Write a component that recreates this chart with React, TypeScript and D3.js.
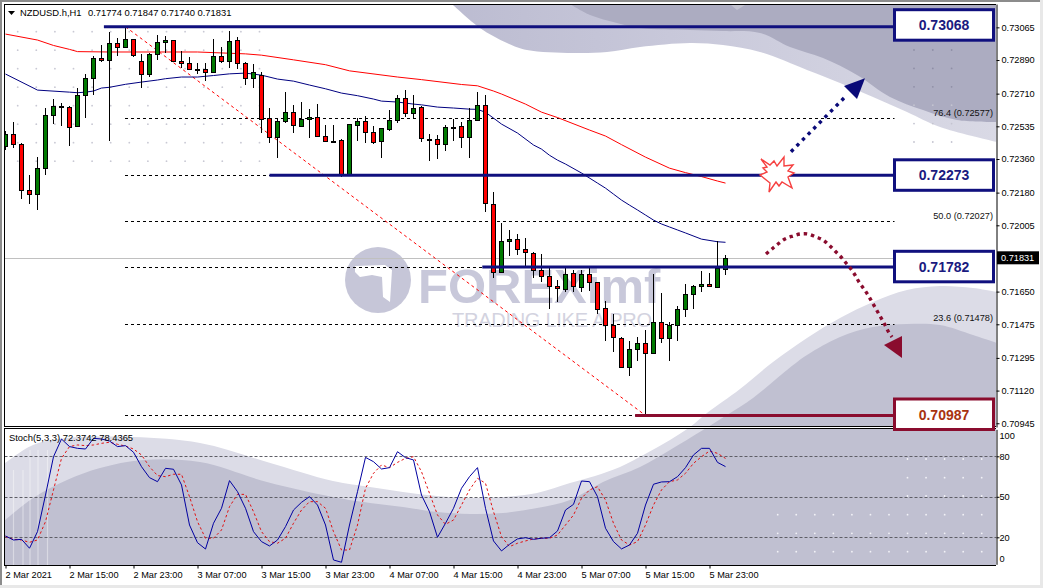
import React, { useEffect, useRef } from 'react';
import * as d3 from 'd3';

// hourly candles, one value per bar
const opens = [
  0.72429, 0.72492, 0.72438, 0.72192, 0.72169, 0.7231, 0.72594, 0.72643, 0.7264, 0.72533, 0.72699, 0.72792, 0.72899,
  0.72888, 0.72979, 0.72956, 0.73001, 0.72883, 0.72813, 0.7292, 0.72982, 0.72995, 0.72883, 0.72872, 0.7284, 0.7284,
  0.72822, 0.7291, 0.72881, 0.72995, 0.72872, 0.72792, 0.72811, 0.72578, 0.72476, 0.72562, 0.7261, 0.7254, 0.72572,
  0.72583, 0.72481, 0.72456, 0.7246, 0.72274, 0.72543, 0.72562, 0.72503, 0.72452, 0.72517, 0.72567, 0.72685, 0.72604,
  0.72636, 0.72468, 0.72465, 0.72438, 0.72531, 0.72535, 0.72474, 0.72567, 0.72649, 0.72117, 0.71753, 0.71917, 0.7193,
  0.71876, 0.71855, 0.71764, 0.71732, 0.71678, 0.71667, 0.71748, 0.71676, 0.71746, 0.71703, 0.7156, 0.71469, 0.714,
  0.71245, 0.71341, 0.71373, 0.71319, 0.71485, 0.714, 0.71469, 0.71555, 0.71635, 0.71678, 0.71689, 0.71673, 0.71774,
];
const highs = [
  0.7251, 0.72558, 0.72444, 0.72274, 0.72369, 0.72631, 0.72681, 0.72658, 0.72645, 0.72738, 0.72815, 0.72911, 0.7297,
  0.73041, 0.73006, 0.73068, 0.73002, 0.7292, 0.72926, 0.73024, 0.73018, 0.72997, 0.7294, 0.72907, 0.72872, 0.72872,
  0.73002, 0.72961, 0.73045, 0.73011, 0.72877, 0.72867, 0.72827, 0.72631, 0.72578, 0.72718, 0.72647, 0.72665, 0.72629,
  0.72653, 0.72542, 0.7254, 0.72465, 0.72547, 0.72578, 0.7259, 0.72536, 0.72526, 0.72622, 0.72702, 0.72729, 0.72702,
  0.72643, 0.72494, 0.72488, 0.72542, 0.72574, 0.72559, 0.72631, 0.72717, 0.72702, 0.72181, 0.72016, 0.7198, 0.71958,
  0.71935, 0.71863, 0.71851, 0.71776, 0.71712, 0.71775, 0.71765, 0.71765, 0.71775, 0.71704, 0.71599, 0.71528, 0.71408,
  0.71385, 0.71407, 0.71444, 0.71742, 0.71641, 0.71489, 0.71573, 0.7169, 0.71685, 0.7176, 0.71748, 0.71921, 0.71847,
];
const lows = [
  0.72408, 0.7242, 0.72146, 0.72119, 0.72087, 0.72276, 0.72547, 0.72536, 0.72431, 0.72529, 0.72581, 0.72704, 0.72881,
  0.72456, 0.72913, 0.72955, 0.72907, 0.72741, 0.728, 0.7289, 0.72929, 0.72877, 0.72845, 0.72836, 0.72813, 0.72777,
  0.72819, 0.72875, 0.72848, 0.72843, 0.72757, 0.72741, 0.72499, 0.72447, 0.72367, 0.72551, 0.72501, 0.72529, 0.72474,
  0.72476, 0.72452, 0.72449, 0.72263, 0.72269, 0.72456, 0.72447, 0.7244, 0.72367, 0.72511, 0.72551, 0.72586, 0.72578,
  0.72452, 0.72351, 0.7236, 0.72404, 0.72456, 0.7242, 0.72367, 0.72565, 0.72078, 0.71724, 0.71752, 0.71842, 0.71846,
  0.71783, 0.71724, 0.71703, 0.71555, 0.71596, 0.71649, 0.71649, 0.71649, 0.71655, 0.71528, 0.71387, 0.71328, 0.71239,
  0.71199, 0.7128, 0.70987, 0.71314, 0.71376, 0.7128, 0.71387, 0.71515, 0.71558, 0.71649, 0.71676, 0.71672, 0.7174,
];
const closes = [
  0.72494, 0.72438, 0.72192, 0.72169, 0.7231, 0.72594, 0.72642, 0.72644, 0.72535, 0.72701, 0.72792, 0.72899, 0.72888,
  0.72979, 0.72956, 0.73001, 0.72913, 0.72813, 0.7292, 0.72984, 0.72995, 0.72881, 0.7287, 0.7284, 0.72841, 0.72822,
  0.7291, 0.72881, 0.7299, 0.72872, 0.72792, 0.72824, 0.72578, 0.72476, 0.72562, 0.7261, 0.7254, 0.72575, 0.72583,
  0.72481, 0.72454, 0.72457, 0.72274, 0.72545, 0.72562, 0.72503, 0.72452, 0.72524, 0.72567, 0.72685, 0.72604, 0.72631,
  0.7247, 0.72469, 0.72438, 0.72529, 0.7253, 0.72474, 0.72567, 0.72649, 0.72122, 0.71753, 0.71919, 0.7193, 0.71879,
  0.7186, 0.71764, 0.71732, 0.71676, 0.71667, 0.71746, 0.71676, 0.71746, 0.71703, 0.7156, 0.71469, 0.71405, 0.71245,
  0.71341, 0.71373, 0.71319, 0.71485, 0.714, 0.71469, 0.71555, 0.71635, 0.71678, 0.71689, 0.71678, 0.71775, 0.71831,
];

// moving averages, read at the bars listed
const blueMaBars = [
  0, 4, 8, 9, 10, 11, 12, 13, 15, 17, 19, 20, 22, 24, 26, 28, 30, 32, 34, 36, 38, 40, 42, 44, 46, 47, 49, 51, 52, 54,
  56, 58, 59, 60, 61, 62, 64, 66, 67, 68, 69, 70, 72, 74, 75, 76, 77, 78, 79, 80, 81, 82, 83, 84, 85, 87, 89, 90,
];
const blueMaValues = [
  0.72815, 0.72729, 0.72718, 0.72715, 0.72718, 0.72724, 0.7274, 0.72744, 0.7276, 0.72772, 0.72783, 0.7279, 0.72799,
  0.72799, 0.72807, 0.72816, 0.7282, 0.72809, 0.72788, 0.72777, 0.72756, 0.72736, 0.72713, 0.72699, 0.72681, 0.7267,
  0.72665, 0.72654, 0.7265, 0.72638, 0.72633, 0.72627, 0.72626, 0.7261, 0.72579, 0.72547, 0.72499, 0.72435, 0.72413,
  0.7238, 0.72354, 0.72333, 0.72285, 0.72231, 0.72204, 0.72172, 0.7214, 0.72113, 0.72087, 0.7206, 0.72033, 0.72012,
  0.71996, 0.7198, 0.71964, 0.71931, 0.71917, 0.71914,
];
const redMaBars = [
  0, 4, 6, 8, 9, 13, 19, 24, 30, 32, 36, 40, 43, 49, 52, 57, 59, 61, 62, 65, 67, 69, 73, 75, 77, 80, 83, 85, 87, 89, 90,
];
const redMaValues = [
  0.73029, 0.72997, 0.72968, 0.72947, 0.72935, 0.72933, 0.72933, 0.72933, 0.72923, 0.72916, 0.72891, 0.72865, 0.72832,
  0.72799, 0.72785, 0.72759, 0.72752, 0.72724, 0.72708, 0.72654, 0.72611, 0.72582, 0.72515, 0.72483, 0.72437, 0.7237,
  0.72311, 0.72287, 0.72266, 0.72242, 0.72231,
];

// stochastic, one value per bar
const stochMain = [
  21.0, 18.0, 18.5, 11.9, 24.2, 51.3, 79.7, 92.8, 87.2, 85.9, 85.4, 93.3, 92.8, 91.3, 87.2, 87.9, 83.0, 72.3, 64.2,
  61.2, 71.1, 70.4, 58.8, 29.1, 16.0, 11.3, 30.4, 41.5, 62.0, 53.8, 41.5, 24.2, 16.8, 13.6, 18.0, 27.9, 40.2, 45.9,
  50.1, 43.9, 29.1, 3.2, 1.5, 29.1, 53.8, 79.2, 76.0, 70.6, 71.6, 83.4, 79.0, 77.3, 51.3, 39.0, 20.0, 30.4, 41.5, 56.3,
  64.9, 71.6, 41.5, 17.3, 9.9, 14.8, 18.8, 19.7, 18.5, 19.3, 19.7, 24.7, 40.2, 44.4, 61.7, 61.2, 50.1, 26.7, 16.8, 11.4,
  14.3, 23.0, 43.9, 59.3, 61.0, 61.2, 64.9, 71.6, 81.0, 85.9, 85.9, 75.5, 72.37,
];
const stochSignal = [
  20.5, 18.5, 18.0, 16.3, 18.0, 31.6, 55.1, 78.5, 87.2, 88.4, 87.9, 88.4, 89.6, 90.4, 88.9, 87.6, 85.4, 81.0, 72.3,
  65.7, 64.9, 66.7, 66.7, 50.1, 31.6, 19.3, 19.3, 25.4, 42.7, 51.8, 51.8, 39.0, 24.2, 16.8, 15.6, 19.3, 30.4, 40.2,
  46.4, 46.4, 41.5, 24.2, 10.6, 10.6, 29.1, 56.3, 67.4, 73.6, 71.6, 75.5, 78.5, 79.7, 68.6, 52.6, 36.5, 29.6, 32.8,
  43.9, 55.1, 63.7, 60.0, 39.0, 20.5, 13.1, 15.6, 17.3, 18.8, 19.3, 19.3, 21.7, 29.1, 36.5, 48.9, 55.1, 57.5, 47.6,
  30.4, 18.0, 14.3, 16.8, 29.1, 43.9, 55.1, 61.2, 62.5, 67.4, 74.8, 79.7, 83.9, 82.2, 78.44,
];

const priceTicks = [
  0.73065, 0.7289, 0.7271, 0.72535, 0.7236, 0.7218, 0.72005, 0.7165, 0.71475, 0.71295, 0.7112, 0.70945,
];
const stochTicks = [100, 80, 50, 20, 0];
const timeTickBars = [0, 8, 16, 24, 32, 40, 48, 56, 64, 72, 80, 88];
const timeLabels = [
  '2 Mar 2021', '2 Mar 15:00', '2 Mar 23:00', '3 Mar 07:00', '3 Mar 15:00', '3 Mar 23:00',
  '4 Mar 07:00', '4 Mar 15:00', '4 Mar 23:00', '5 Mar 07:00', '5 Mar 15:00', '5 Mar 23:00',
];

// fibonacci retracement drawn from the bar 15 high to the bar 80 low
const fibLabels = ['100.0', '76.4', '61.8', '50.0', '38.2', '23.6', '0.0'];
const fibPrices = [0.73068, 0.72577, 0.72273, 0.72027, 0.71782, 0.71478, 0.70987];
const fibLabelled = ['76.4', '50.0', '23.6'];

const blueLevels = [0.73068, 0.72273, 0.71782];
const blueLevelStartBars = [12.3, 33, 59.6];
const redLevel = 0.70987;
const redLevelStartBar = 78.7;
const lastPrice = 0.71831;

// picture layout, in pixels
const W = 1043;
const H = 588;
const LEFT = 4.5;
const AXIS_X = 996;
const MAIN_TOP = 4;
const MAIN_BOTTOM = 427;
const SUB_TOP = 429;
const SUB_BOTTOM = 565;
const BOX_X = 894.5;
const BOX_W = 99;

// background artwork
const upperLight: [number, number][] = [
  [452, 4], [480, 28], [507, 43], [527, 50], [573, 53], [607, 52], [640, 47], [690, 43], [723, 45], [760, 52],
  [807, 70], [840, 83], [873, 97], [907, 112], [940, 127], [997, 142],
];
const upperDark: [number, number][] = [
  [570, 4], [590, 15], [617, 23], [640, 28], [690, 30], [723, 31], [760, 33], [790, 47], [823, 58], [857, 75],
  [890, 97], [923, 110], [957, 120], [997, 122],
];
const lowerLight: [number, number][] = [
  [4, 464], [33, 445], [67, 438], [133, 437], [200, 443], [267, 462], [333, 481], [370, 487], [403, 492], [437, 496],
  [470, 498], [503, 497], [537, 493], [570, 483], [595, 476], [620, 467], [647, 453], [670, 440], [690, 427],
  [707, 413], [740, 389], [773, 362], [807, 338], [840, 318], [873, 302], [907, 290], [940, 286], [973, 288], [997, 292],
];
const lowerDark: [number, number][] = [
  [4, 521], [33, 498], [67, 480], [100, 468], [143, 460], [200, 462], [267, 482], [333, 497], [370, 503], [403, 507],
  [437, 512], [470, 514], [503, 513], [537, 508], [570, 500], [603, 482], [640, 467], [670, 450], [703, 430],
  [727, 415], [753, 398], [787, 370], [807, 355], [840, 337], [873, 327], [907, 324], [940, 325], [973, 335], [997, 343],
];
const streakXs = [13.5, 23, 30, 38, 47.5];

const blueArrowPath: [number, number][] = [[791, 151.7], [847, 95]];
const blueArrowHead: [number, number][] = [[865, 78.3], [844, 86], [857, 99]];
const redArrowPath: [number, number][] = [
  [766, 254], [772, 249], [778, 244], [785, 239], [793, 236], [800, 234], [808, 234], [816, 237], [823, 240], [829, 245],
  [835, 251], [841, 257], [846, 263], [851, 269], [855, 275], [859, 282], [864, 289], [868, 295], [872, 302], [876, 309],
  [880, 316], [884, 323], [888, 331], [892, 337],
];
const redArrowHead: [number, number][] = [[884, 345], [902, 336], [902, 358]];
const burst: [number, number][] = [
  [761, 159], [770, 165], [774, 161], [777, 166], [784, 157], [784, 166], [793, 165], [788, 171], [794, 173], [788, 177],
  [792, 188], [782, 182], [779, 186], [776, 182], [769, 192], [770, 183], [760, 175], [767, 172], [763, 168], [767, 167],
];
const logoCut: [number, number][] = [
  [355, 266], [385, 265], [392, 270], [390, 302], [383, 297], [382, 277], [372, 275], [360, 277], [355, 272],
];

const NAVY = '#10107e';
const MAROON = '#8a0c2e';
const FONT = '"Liberation Sans", Arial, sans-serif';

const App: React.FC = () => {
  const svgRef = useRef<SVGSVGElement>(null);

  useEffect(() => {
    if (!svgRef.current) return;
    const svg = d3.select(svgRef.current);
    svg.selectAll('*').remove();

    const x = d3.scaleLinear().domain([0, 90]).range([5.5, 725.5]);
    const y = d3.scaleLinear().domain([0.7319, 0.70925]).range([MAIN_TOP, MAIN_BOTTOM]);
    const yStoch = d3.scaleLinear().domain([0, 100]).range([564.3, 429.3]);
    const snap = (v: number) => Math.round(v) + 0.5;

    const defs = svg.append('defs');
    const addClip = (id: string, top: number, bottom: number) =>
      defs.append('clipPath').attr('id', id).append('rect')
        .attr('x', LEFT).attr('y', top).attr('width', AXIS_X - LEFT).attr('height', bottom - top);
    addClip('main-clip', MAIN_TOP, MAIN_BOTTOM);
    addClip('sub-clip', SUB_TOP, SUB_BOTTOM);

    const lightGrad = defs.append('linearGradient').attr('id', 'upper-light')
      .attr('gradientUnits', 'userSpaceOnUse').attr('x1', 452).attr('x2', 996).attr('y1', 0).attr('y2', 0);
    lightGrad.append('stop').attr('offset', 0).attr('stop-color', '#bcbcd1');
    lightGrad.append('stop').attr('offset', 0.4).attr('stop-color', '#c8c8da');
    lightGrad.append('stop').attr('offset', 1).attr('stop-color', '#d9d9e5');

    svg.append('rect').attr('width', W).attr('height', H).attr('fill', '#ffffff');

    // window frame
    svg.append('rect').attr('width', W).attr('height', 2).attr('fill', '#8c8c8c');
    svg.append('rect').attr('width', 2).attr('height', H).attr('fill', '#8c8c8c');
    svg.append('rect').attr('y', 585).attr('width', W).attr('height', 3).attr('fill', '#e8e8e8');
    svg.append('rect').attr('x', 1040).attr('width', 3).attr('height', H).attr('fill', '#e8e8e8');

    // artwork behind the chart
    const smooth = d3.line().curve(d3.curveCatmullRom.alpha(0.5));
    const closedTop = (pts: [number, number][]) =>
      smooth(pts)! + `L${pts[pts.length - 1][0]},${MAIN_TOP}L${pts[0][0]},${MAIN_TOP}Z`;
    const closedBottom = (pts: [number, number][]) =>
      smooth(pts)! + `L${pts[pts.length - 1][0]},${SUB_BOTTOM}L${pts[0][0]},${SUB_BOTTOM}Z`;

    const art = svg.append('g');
    for (const clip of ['main-clip', 'sub-clip']) {
      const g = art.append('g').attr('clip-path', `url(#${clip})`);
      g.append('path').attr('d', closedTop(upperLight)).attr('fill', 'url(#upper-light)');
      g.append('path').attr('d', closedTop(upperDark)).attr('fill', '#acacc1');
      g.append('path').attr('d', closedBottom(lowerLight)).attr('fill', '#dcdce7');
      g.append('path').attr('d', closedBottom(lowerDark)).attr('fill', '#c0c0d1');
    }
    art.append('polygon').attr('points', '731,5 745,5 737,10').attr('fill', '#c2c2cf');

    const subArt = art.append('g').attr('clip-path', 'url(#sub-clip)');
    subArt.selectAll('line').data(streakXs).enter().append('line')
      .attr('x1', (d) => d).attr('x2', (d) => d)
      .attr('y1', (d) => (d < 30 ? 470 : 450)).attr('y2', SUB_BOTTOM)
      .attr('stroke', '#ffffff').attr('stroke-opacity', 0.4).attr('stroke-width', 1.2);

    // dot pattern of the logo sheet
    const dots: { cx: number; cy: number; c: string }[] = [];
    d3.range(14).forEach((c) => d3.range(8).forEach((r) => {
      dots.push({ cx: 17.7 + c * 18.6, cy: 31.7 + r * 18.5, c: '#c9c9d4' });
    }));
    d3.range(3).forEach((c) => d3.range(6).forEach((r) => {
      dots.push({ cx: 914 + c * 18.8, cy: 50 + r * 18.4, c: r < 3 ? '#8f8fa6' : '#c4c4d0' });
    }));
    d3.range(12).forEach((c) => [514.7, 533.3, 551.7].forEach((cy) => {
      dots.push({ cx: 777.7 + c * 18.55, cy, c: '#f2f2f7' });
    }));
    d3.range(5).forEach((c) => [459, 477.7, 496].forEach((cy) => {
      dots.push({ cx: 907.5 + c * 18.55, cy, c: '#f2f2f7' });
    }));
    art.selectAll('circle.dot').data(dots).enter().append('circle')
      .attr('cx', (d) => d.cx).attr('cy', (d) => d.cy).attr('r', 0.9).attr('fill', (d) => d.c);

    // watermark
    art.append('circle').attr('cx', 378).attr('cy', 280).attr('r', 33).attr('fill', '#c6c6d8');
    art.append('polygon').attr('points', logoCut.join(' ')).attr('fill', '#ffffff');
    art.append('text').attr('x', 418).attr('y', 303).text('FOREXimf')
      .attr('font-family', FONT).attr('font-weight', 700).attr('font-size', 49).attr('fill', '#c8c8da');
    art.append('text').attr('x', 452).attr('y', 327).text('TRADING LIKE A PRO')
      .attr('textLength', 200).attr('font-family', FONT).attr('font-size', 20).attr('fill', '#d3d3e0');

    // main pane
    const main = svg.append('g').attr('clip-path', 'url(#main-clip)');

    main.append('line')
      .attr('x1', LEFT).attr('x2', BOX_X).attr('y1', snap(y(lastPrice))).attr('y2', snap(y(lastPrice)))
      .attr('stroke', '#c0c0c0');

    main.selectAll('line.fib').data(fibPrices).enter().append('line')
      .attr('x1', 125).attr('x2', BOX_X)
      .attr('y1', (d) => snap(y(d))).attr('y2', (d) => snap(y(d)))
      .attr('stroke', '#000000').attr('stroke-dasharray', '3 3');

    main.append('line')
      .attr('x1', x(15)).attr('y1', y(fibPrices[0]))
      .attr('x2', x(80)).attr('y2', y(fibPrices[fibPrices.length - 1]))
      .attr('stroke', '#ff0000').attr('stroke-dasharray', '3 3');

    const redMaLine = d3.line<number>().x((_, i) => x(redMaBars[i])).y((d) => y(d));
    const blueMaLine = d3.line<number>().x((_, i) => x(blueMaBars[i])).y((d) => y(d));
    main.append('path').attr('d', redMaLine(redMaValues)!)
      .attr('fill', 'none').attr('stroke', '#ff0000');
    main.append('path').attr('d', blueMaLine(blueMaValues)!)
      .attr('fill', 'none').attr('stroke', '#000080');

    // candles
    const bars = d3.range(opens.length);
    const candles = main.append('g').attr('shape-rendering', 'crispEdges');
    candles.selectAll('line').data(bars).enter().append('line')
      .attr('x1', (i) => x(i)).attr('x2', (i) => x(i))
      .attr('y1', (i) => Math.round(y(highs[i]))).attr('y2', (i) => Math.round(y(lows[i])))
      .attr('stroke', '#000000');
    candles.selectAll('rect').data(bars).enter().append('rect')
      .attr('x', (i) => x(i) - 2)
      .attr('width', 4)
      .attr('y', (i) => snap(y(Math.max(opens[i], closes[i]))))
      .attr('height', (i) => Math.max(1, Math.round(Math.abs(y(opens[i]) - y(closes[i])))))
      .attr('fill', (i) => {
        const size = Math.abs(opens[i] - closes[i]);
        if (size < 0.00003) return '#000000';
        return closes[i] > opens[i] ? '#007a00' : '#ff0000';
      })
      .attr('stroke', '#000000');

    // levels
    const levels = svg.append('g');
    levels.selectAll('line').data(blueLevels).enter().append('line')
      .attr('x1', (_, i) => x(blueLevelStartBars[i])).attr('x2', BOX_X)
      .attr('y1', (d) => y(d)).attr('y2', (d) => y(d))
      .attr('stroke', NAVY).attr('stroke-width', 3);
    levels.append('line')
      .attr('x1', x(redLevelStartBar)).attr('x2', BOX_X)
      .attr('y1', y(redLevel)).attr('y2', y(redLevel))
      .attr('stroke', MAROON).attr('stroke-width', 3);

    svg.append('g').selectAll('text').data(fibPrices.filter((_, i) => fibLabelled.includes(fibLabels[i])))
      .enter().append('text')
      .attr('x', 993).attr('y', (d) => y(d) - 2.5).attr('text-anchor', 'end')
      .attr('font-family', FONT).attr('font-size', 9.2).attr('fill', '#111111')
      .text((d) => `${fibLabels[fibPrices.indexOf(d)]} (${d.toFixed(5)})`);

    // stochastic pane
    const sub = svg.append('g').attr('clip-path', 'url(#sub-clip)');
    sub.selectAll('line').data([80, 50, 20]).enter().append('line')
      .attr('x1', LEFT).attr('x2', AXIS_X)
      .attr('y1', (d) => snap(yStoch(d))).attr('y2', (d) => snap(yStoch(d)))
      .attr('stroke', '#5e5e66').attr('stroke-dasharray', '3 2');
    const stochLine = d3.line<number>().x((_, i) => x(i)).y((d) => yStoch(d));
    sub.append('path').attr('d', stochLine(stochSignal)!)
      .attr('fill', 'none').attr('stroke', '#e01010').attr('stroke-dasharray', '2.5 2.5');
    sub.append('path').attr('d', stochLine(stochMain)!)
      .attr('fill', 'none').attr('stroke', '#0000a0');

    // pane borders
    const borders = svg.append('g').attr('fill', 'none').attr('stroke', '#000000').attr('shape-rendering', 'crispEdges');
    borders.append('path').attr('d', `M${LEFT},${MAIN_BOTTOM - 0.5}V${MAIN_TOP + 0.5}H${AXIS_X}`);
    borders.append('line').attr('x1', LEFT).attr('x2', AXIS_X).attr('y1', MAIN_BOTTOM - 0.5).attr('y2', MAIN_BOTTOM - 0.5);
    borders.append('path').attr('d', `M${LEFT},${SUB_BOTTOM + 0.5}V${SUB_TOP - 0.5}H${AXIS_X}`);
    borders.append('line').attr('x1', LEFT).attr('x2', AXIS_X).attr('y1', SUB_BOTTOM + 0.5).attr('y2', SUB_BOTTOM + 0.5);

    // axes
    const priceAxis = svg.append('g')
      .attr('transform', `translate(${AXIS_X + 0.5},0)`)
      .call(d3.axisRight(y).tickValues(priceTicks).tickSize(3).tickSizeOuter(0).tickPadding(2)
        .tickFormat((d) => (d as number).toFixed(5)));
    const stochAxis = svg.append('g')
      .attr('transform', `translate(${AXIS_X + 0.5},0)`)
      .call(d3.axisRight(yStoch).tickValues(stochTicks).tickSize(3).tickSizeOuter(0).tickPadding(0));
    stochAxis.selectAll<SVGGElement, number>('.tick').each(function (d) {
      if (d === 100 || d === 0) {
        d3.select(this).select('line').remove();
        d3.select(this).select('text').attr('y', d === 100 ? 6 : -6);
      }
    });
    const timeAxis = svg.append('g')
      .attr('transform', `translate(0,${SUB_BOTTOM + 0.5})`)
      .call(d3.axisBottom(x).tickValues(timeTickBars).tickSize(3).tickSizeOuter(0).tickPadding(3)
        .tickFormat((_, i) => timeLabels[i]));
    timeAxis.select('.domain').remove();
    timeAxis.selectAll('text').attr('text-anchor', 'start').attr('x', -0.5);
    for (const axis of [priceAxis, stochAxis, timeAxis]) {
      axis.attr('font-family', FONT).attr('font-size', 9.2);
      axis.selectAll('text').attr('fill', '#000000');
    }

    // last price tag
    svg.append('rect').attr('x', AXIS_X + 1).attr('y', y(lastPrice) - 6.5).attr('width', 42).attr('height', 13).attr('fill', '#000000');
    svg.append('text').attr('x', AXIS_X + 5).attr('y', y(lastPrice) + 3.4).text(lastPrice.toFixed(5))
      .attr('font-family', FONT).attr('font-size', 9.2).attr('fill', '#ffffff');

    // value boxes
    const boxes = svg.append('g');
    const addBox = (value: number, top: number, stroke: string, fill: string) => {
      boxes.append('rect').attr('x', BOX_X).attr('y', top).attr('width', BOX_W).attr('height', 30.5)
        .attr('fill', '#ffffff').attr('stroke', stroke).attr('stroke-width', 3);
      boxes.append('text').attr('x', BOX_X + BOX_W / 2).attr('y', top + 20.5).attr('text-anchor', 'middle')
        .attr('font-family', FONT).attr('font-weight', 700).attr('font-size', 14).attr('fill', fill)
        .text(value.toFixed(5));
    };
    addBox(blueLevels[0], 9.7, NAVY, '#1a1a80');
    addBox(blueLevels[1], 159.8, NAVY, '#1a1a80');
    addBox(blueLevels[2], 251.3, NAVY, '#1a1a80');
    addBox(redLevel, 399, MAROON, '#a8330f');

    // forecast arrows
    const arrows = svg.append('g');
    arrows.append('path').attr('d', d3.line()(blueArrowPath)!)
      .attr('fill', 'none').attr('stroke', '#0a0a78').attr('stroke-width', 3.4).attr('stroke-dasharray', '3.4 4.6');
    arrows.append('polygon').attr('points', blueArrowHead.join(' ')).attr('fill', '#0a0a78');
    arrows.append('path').attr('d', d3.line().curve(d3.curveCatmullRom)(redArrowPath)!)
      .attr('fill', 'none').attr('stroke', MAROON).attr('stroke-width', 3.4).attr('stroke-dasharray', '3.4 3.9');
    arrows.append('polygon').attr('points', redArrowHead.join(' ')).attr('fill', MAROON);
    arrows.append('polygon').attr('points', burst.join(' '))
      .attr('fill', '#ffffff').attr('stroke', '#f64040').attr('stroke-width', 1.4);

    // chart captions
    svg.append('polygon').attr('points', '8,11 15,11 11.5,15').attr('fill', '#000000');
    svg.append('text').attr('x', 20).attr('y', 16).text('NZDUSD.h,H1')
      .attr('font-family', FONT).attr('font-size', 9.4).attr('fill', '#000000');
    svg.append('text').attr('x', 88).attr('y', 16).text('0.71774 0.71847 0.71740 0.71831')
      .attr('font-family', FONT).attr('font-size', 9.4).attr('fill', '#000000');
    svg.append('text').attr('x', 9).attr('y', 441).text('Stoch(5,3,3) 72.3742 78.4365')
      .attr('font-family', FONT).attr('font-size', 9.4).attr('fill', '#000000');
  }, []);

  return (
    <svg
      ref={svgRef}
      width={W}
      height={H}
      style={{ position: 'absolute', left: 0, top: 0, display: 'block' }}
    />
  );
};

export default App;
